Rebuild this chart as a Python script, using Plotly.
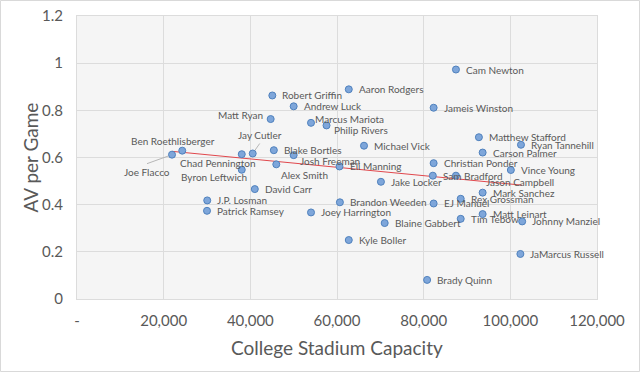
import numpy as np
import plotly.graph_objects as go

names = ["Cam Newton", "Aaron Rodgers", "Jameis Winston", "Robert Griffin", "Andrew Luck",
         "Matt Ryan", "Marcus Mariota", "Philip Rivers", "Michael Vick", "Blake Bortles",
         "Josh Freeman", "Jay Cutler", "Chad Pennington", "Ben Roethlisberger", "Joe Flacco",
         "Byron Leftwich", "Alex Smith", "David Carr", "J.P. Losman", "Patrick Ramsey",
         "Joey Harrington", "Eli Manning", "Jake Locker", "Christian Ponder", "Sam Bradford",
         "Jason Campbell", "Matthew Stafford", "Ryan Tannehill", "Carson Palmer", "Vince Young",
         "Mark Sanchez", "Rex Grossman", "EJ Manuel", "Brandon Weeden", "Matt Leinart",
         "Tim Tebow", "Johnny Manziel", "Blaine Gabbert", "Kyle Boller", "JaMarcus Russell",
         "Brady Quinn"]
capacity = [87451, 62717, 82300, 45074, 50000,
            44692, 54000, 57583, 66233, 45423,
            50000, 40550, 38019, 24286, 21923,
            38019, 45989, 41031, 30052, 30000,
            54000, 60580, 70138, 82300, 82112,
            87451, 92746, 102455, 93607, 100119,
            93607, 88548, 82300, 60670, 93607,
            88548, 102733, 71004, 62717, 102321,
            80795]
av_per_game = [0.973, 0.889, 0.811, 0.863, 0.817,
               0.763, 0.747, 0.736, 0.650, 0.631,
               0.610, 0.617, 0.614, 0.629, 0.612,
               0.548, 0.571, 0.466, 0.418, 0.374,
               0.367, 0.562, 0.497, 0.576, 0.523,
               0.523, 0.686, 0.654, 0.621, 0.547,
               0.451, 0.425, 0.405, 0.410, 0.360,
               0.340, 0.329, 0.322, 0.250, 0.191,
               0.081]

x_tick_vals = [0, 20000, 40000, 60000, 80000, 100000, 120000]
x_tick_text = ["-", "20,000", "40,000", "60,000", "80,000", "100,000", "120,000"]
y_tick_vals = [0, 0.2, 0.4, 0.6, 0.8, 1.0, 1.2]
y_tick_text = ["0", "0.2", "0.4", "0.6", "0.8", "1", "1.2"]
x_title = "College Stadium Capacity"
y_title = "AV per Game"

# label placement: (xanchor, yanchor, xshift, yshift)
default_pos = ("left", "middle", 8, 0)
special_pos = {
    "Matt Ryan": ("right", "middle", -6, 4),
    "Ben Roethlisberger": ("right", "middle", 35, 10),
    "Chad Pennington": ("center", "middle", -24, -9),
    "Byron Leftwich": ("center", "middle", -28, -7),
    "Alex Smith": ("left", "middle", 3, -11),
    "Marcus Mariota": ("left", "middle", 2, 4),
    "Philip Rivers": ("left", "middle", 5, -5),
    "Josh Freeman": ("left", "middle", 4, -6),
    "Jason Campbell": ("left", "middle", 28, -6),
}

FONT = "Lato, 'Open Sans', sans-serif"
TXT = "#595959"
LBL = 10

fig = go.Figure()

# trend line (least squares fit of the data)
cap = np.array(capacity, dtype=float)
avg = np.array(av_per_game, dtype=float)
slope, intercept = np.polyfit(cap, avg, 1)
xl = np.array([cap.min(), cap.max()])
fig.add_trace(go.Scatter(x=xl, y=slope * xl + intercept, mode="lines",
                         line=dict(color="#e0474c", width=1), hoverinfo="skip",
                         showlegend=False))

fig.add_trace(go.Scatter(x=capacity, y=av_per_game, mode="markers", text=names,
                         marker=dict(size=7, color="#7ea6da",
                                     line=dict(color="#4f81bd", width=1)),
                         showlegend=False))

for n, xv, yv in zip(names, capacity, av_per_game):
    if n == "Joe Flacco":
        fig.add_annotation(x=xv, y=yv, text=n, showarrow=True, arrowhead=0,
                           arrowwidth=0.8, arrowcolor="#a6a6a6", ax=-25, ay=9,
                           xanchor="center", yanchor="top", standoff=4,
                           font=dict(family=FONT, size=LBL, color=TXT))
        continue
    if n == "Jay Cutler":
        fig.add_annotation(x=xv, y=yv, text=n, showarrow=True, arrowhead=0,
                           arrowwidth=0.8, arrowcolor="#a6a6a6", ax=7, ay=-10,
                           xanchor="center", yanchor="bottom", standoff=4,
                           font=dict(family=FONT, size=LBL, color=TXT))
        continue
    xa, ya, xs, ys = special_pos.get(n, default_pos)
    fig.add_annotation(x=xv, y=yv, text=n, showarrow=False, xanchor=xa, yanchor=ya,
                       xshift=xs, yshift=ys,
                       font=dict(family=FONT, size=LBL, color=TXT))

L, R, T, B = 77, 43, 16, 73
W, H = 640, 372
pw, ph = W - L - R, H - T - B

# axis titles
fig.add_annotation(xref="paper", yref="paper", x=0.5, y=-(347 - (H - B)) / ph,
                   text=x_title, showarrow=False, xanchor="center", yanchor="middle",
                   font=dict(family=FONT, size=19, color=TXT))
fig.add_annotation(xref="paper", yref="paper", x=(30 - L) / pw, y=0.5,
                   text=y_title, showarrow=False, textangle=-90,
                   xanchor="center", yanchor="middle",
                   font=dict(family=FONT, size=19, color=TXT))

fig.add_shape(type="rect", xref="paper", yref="paper",
              x0=-(L - 0.5) / pw, x1=1 + (R - 0.5) / pw,
              y0=-(B - 0.5) / ph, y1=1 + (T - 0.5) / ph,
              line=dict(color="#d9d9d9", width=1), layer="below")

fig.update_layout(
    width=W, height=H,
    margin=dict(l=L, r=R, t=T, b=B),
    paper_bgcolor="white",
    plot_bgcolor="#f5f5f5",
    font=dict(family=FONT, color=TXT),
    xaxis=dict(range=[0, 120000], tickvals=x_tick_vals, ticktext=x_tick_text,
               showgrid=True, gridcolor="#dcdcdc", gridwidth=1, zeroline=False,
               showline=True, linecolor="#dcdcdc", mirror=True, ticks="",
               tickfont=dict(size=15, color=TXT), fixedrange=True,
               ticklabelstandoff=8, automargin=False),
    yaxis=dict(range=[0, 1.2], tickvals=y_tick_vals, ticktext=y_tick_text,
               showgrid=True, gridcolor="#dcdcdc", gridwidth=1, zeroline=False,
               showline=True, linecolor="#dcdcdc", mirror=True, ticks="",
               tickfont=dict(size=15, color=TXT), fixedrange=True,
               ticklabelstandoff=10, automargin=False),
)

fig.write_html("out.html", config={"displayModeBar": False},
               post_script="document.body.style.margin='0';document.body.style.overflow='hidden';")
